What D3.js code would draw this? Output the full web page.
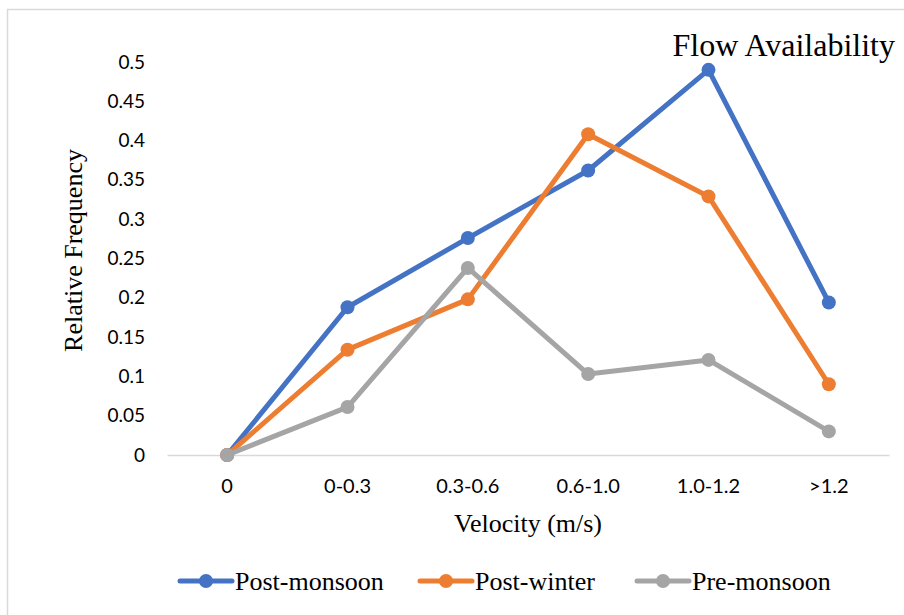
<!DOCTYPE html>
<html>
<head>
<meta charset="utf-8">
<script src="https://d3js.org/d3.v7.min.js"></script>
<style>
  body { margin: 0; background: #fff; }
  svg { display: block; }
</style>
</head>
<body>
<script>
// Velocity classes and relative frequencies per season
const categories = ["0", "0-0.3", "0.3-0.6", "0.6-1.0", "1.0-1.2", ">1.2"];
const postMonsoon = [0, 0.188, 0.276, 0.362, 0.490, 0.194];
const postWinter  = [0, 0.134, 0.198, 0.408, 0.329, 0.090];
const preMonsoon  = [0, 0.061, 0.238, 0.103, 0.121, 0.030];
const seriesNames = ["Post-monsoon", "Post-winter", "Pre-monsoon"];
const seriesColors = ["#4472C4", "#ED7D31", "#A5A5A5"];
const yTicks = [0, 0.05, 0.1, 0.15, 0.2, 0.25, 0.3, 0.35, 0.4, 0.45, 0.5];

const series = [postMonsoon, postWinter, preMonsoon].map((vals, i) => ({
  name: seriesNames[i], color: seriesColors[i], values: vals
}));

const W = 904, H = 615;
const serif = "'Liberation Serif', 'Times New Roman', serif";
const sans = "Lato, 'Open Sans', sans-serif";
const svg = d3.select("body").append("svg").attr("width", W).attr("height", H);

// chart frame
svg.append("rect").attr("x", 7.5).attr("y", 9.5).attr("width", W).attr("height", H)
  .attr("fill", "none").attr("stroke", "#d9d9d9").attr("stroke-width", 1.5);

const plot = { left: 167, right: 889, top: 62, bottom: 455 };

const x = d3.scaleBand().domain(categories).range([plot.left, plot.right]);
const y = d3.scaleLinear().domain([0, 0.5]).range([plot.bottom, plot.top]);

// x axis
const xAxis = svg.append("g").attr("transform", `translate(0,${plot.bottom})`)
  .call(d3.axisBottom(x).tickSize(0).tickPadding(24));
xAxis.select(".domain").attr("stroke", "#d9d9d9").attr("stroke-width", 1.5);
xAxis.selectAll("text").style("font-family", sans)
  .style("font-size", "20px").attr("fill", "#000");

// y axis
const yAxis = svg.append("g").attr("transform", `translate(${plot.left},0)`)
  .call(d3.axisLeft(y).tickValues(yTicks).tickSize(0).tickPadding(22)
    .tickFormat(d => d3.format("")(+d.toFixed(2))));
yAxis.select(".domain").remove();
yAxis.selectAll("text").style("font-family", sans)
  .style("font-size", "19px").attr("fill", "#000");

// axis titles
svg.append("text").attr("x", 528).attr("y", 532)
  .attr("text-anchor", "middle").style("font-family", serif)
  .style("font-size", "26px").text("Velocity (m/s)");
svg.append("text").attr("transform", `translate(82,${(plot.top + plot.bottom) / 2 - 8}) rotate(-90)`)
  .attr("text-anchor", "middle").style("font-family", serif)
  .style("font-size", "26px").text("Relative Frequency");

// title
svg.append("text").attr("x", 895).attr("y", 56).attr("text-anchor", "end")
  .style("font-family", serif).style("font-size", "32px")
  .text("Flow Availability");

// lines and markers
const line = d3.line()
  .x((d, i) => x(categories[i]) + x.bandwidth() / 2)
  .y(d => y(d));

series.forEach(s => {
  const g = svg.append("g");
  g.append("path").datum(s.values).attr("d", line)
    .attr("fill", "none").attr("stroke", s.color).attr("stroke-width", 5)
    .attr("stroke-linejoin", "round").attr("stroke-linecap", "round");
  g.selectAll("circle").data(s.values).join("circle")
    .attr("cx", (d, i) => x(categories[i]) + x.bandwidth() / 2)
    .attr("cy", d => y(d)).attr("r", 7).attr("fill", s.color);
});

// legend
const legendX = [178, 418, 635];
const legend = svg.append("g");
series.forEach((s, i) => {
  const g = legend.append("g").attr("transform", `translate(${legendX[i]},581)`);
  g.append("line").attr("x1", 2).attr("x2", 54).attr("y1", 0).attr("y2", 0)
    .attr("stroke", s.color).attr("stroke-width", 5).attr("stroke-linecap", "round");
  g.append("circle").attr("cx", 28).attr("cy", 0).attr("r", 7).attr("fill", s.color);
  g.append("text").attr("x", 57).attr("y", 9).style("font-family", serif)
    .style("font-size", "26px").text(s.name);
});
</script>
</body>
</html>
